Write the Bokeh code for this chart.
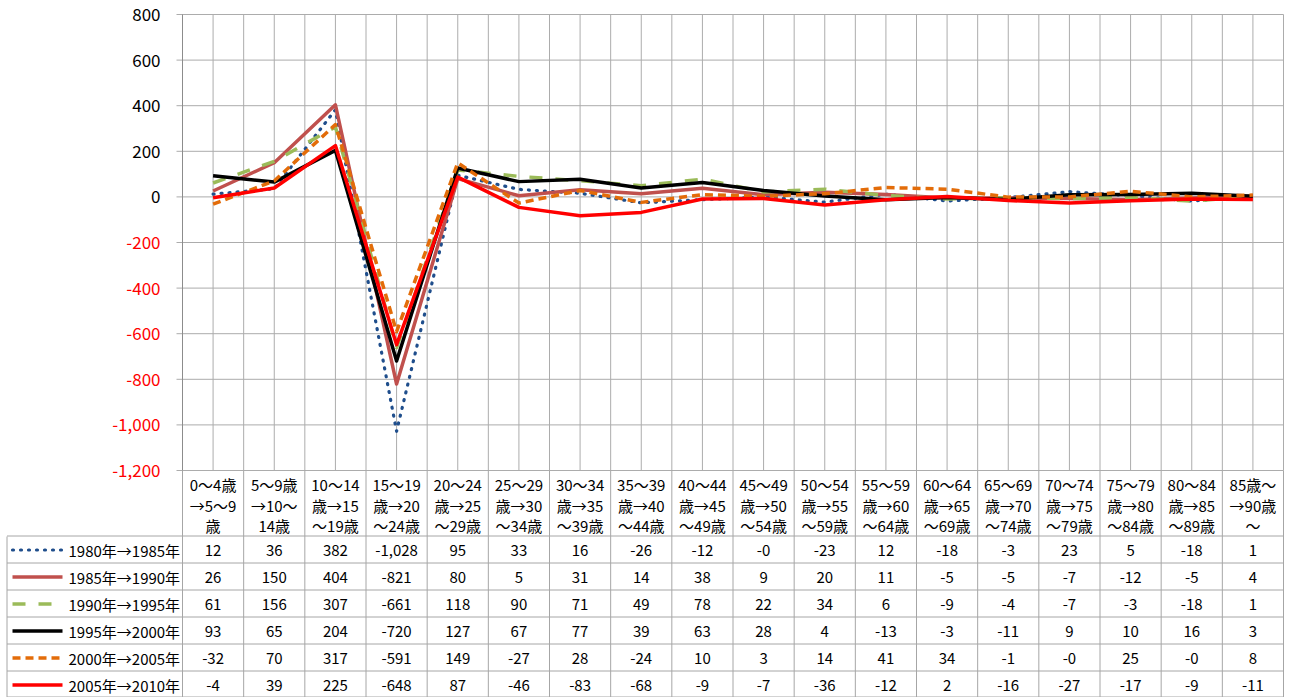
from bokeh.plotting import figure
from bokeh.models import Range1d
from bokeh.embed import file_html
from bokeh.resources import INLINE
from bokeh.core.properties import value

# ---------------- data ----------------
categories = [
    "0～4歳\n→5～9\n歳", "5～9歳\n→10～\n14歳", "10～14\n歳→15\n～19歳",
    "15～19\n歳→20\n～24歳", "20～24\n歳→25\n～29歳", "25～29\n歳→30\n～34歳",
    "30～34\n歳→35\n～39歳", "35～39\n歳→40\n～44歳", "40～44\n歳→45\n～49歳",
    "45～49\n歳→50\n～54歳", "50～54\n歳→55\n～59歳", "55～59\n歳→60\n～64歳",
    "60～64\n歳→65\n～69歳", "65～69\n歳→70\n～74歳", "70～74\n歳→75\n～79歳",
    "75～79\n歳→80\n～84歳", "80～84\n歳→85\n～89歳", "85歳～\n→90歳\n～",
]
series_names = ["1980年→1985年", "1985年→1990年", "1990年→1995年",
                "1995年→2000年", "2000年→2005年", "2005年→2010年"]
s1980 = [12, 36, 382, -1028, 95, 33, 16, -26, -12, -0.2, -23, 12, -18, -3, 23, 5, -18, 1]
s1985 = [26, 150, 404, -821, 80, 5, 31, 14, 38, 9, 20, 11, -5, -5, -7, -12, -5, 4]
s1990 = [61, 156, 307, -661, 118, 90, 71, 49, 78, 22, 34, 6, -9, -4, -7, -3, -18, 1]
s1995 = [93, 65, 204, -720, 127, 67, 77, 39, 63, 28, 4, -13, -3, -11, 9, 10, 16, 3]
s2000 = [-32, 70, 317, -591, 149, -27, 28, -24, 10, 3, 14, 41, 34, -1, -0.2, 25, -0.2, 8]
s2005 = [-4, 39, 225, -648, 87, -46, -83, -68, -9, -7, -36, -12, 2, -16, -27, -17, -9, -11]
y_ticks = [800, 600, 400, 200, 0, -200, -400, -600, -800, -1000, -1200]

series = [s1980, s1985, s1990, s1995, s2000, s2005]
styles = [
    dict(line_color="#1F4E8C", line_width=3.2, line_dash="1 7", line_cap="round"),
    dict(line_color="#C0504D", line_width=3.5),
    dict(line_color="#9BBB59", line_width=3.5, line_dash="13 13"),
    dict(line_color="#000000", line_width=3.5),
    dict(line_color="#E36C09", line_width=3.5, line_dash="8 5"),
    dict(line_color="#FF0000", line_width=3.5),
]

FONT = "Noto Sans CJK JP"
GRID = "#acacac"
BORDER = "#a6a6a6"
AXIS = "#8c8c8c"

W, H = 1288, 697
N = len(categories)
CL, CR = 182, 1283          # chart frame left/right (canvas px)
CT, CB = 14, 470            # chart top/bottom (canvas px)
ppu = (CR - CL) / N
x_start = -CL / ppu
x_end = N + (W - CR) / ppu

TH = H - CB                 # table height in px (y units of default range)
HDR = 66
ROW = 27
body_top = TH - HDR

vmin, vmax = y_ticks[-1], y_ticks[0]
k = (vmax - vmin) / (CB - CT)
val_range = Range1d(vmin - (H - CB) * k, vmax + CT * k)

p = figure(width=W, height=H, x_range=Range1d(x_start, x_end), y_range=Range1d(0, H),
           output_backend="svg", toolbar_location=None,
           x_axis_location=None, y_axis_location=None,
           min_border_left=0, min_border_right=0, min_border_top=0, min_border_bottom=0)
p.extra_y_ranges = {"val": val_range}
p.grid.visible = False
p.outline_line_color = None
p.background_fill_color = "white"
p.border_fill_color = "white"

# ---------- chart grid ----------
hx0 = -6 / ppu
p.segment(x0=[hx0] * len(y_ticks), y0=y_ticks, x1=[N] * len(y_ticks), y1=y_ticks,
          line_color=GRID, line_width=1, y_range_name="val")
gx = [j * 0.5 for j in range(1, 2 * N + 1)]
p.segment(x0=gx, y0=[vmin] * len(gx), x1=gx, y1=[vmax] * len(gx),
          line_color=GRID, line_width=1, y_range_name="val")
p.segment(x0=[0], y0=[vmin], x1=[0], y1=[vmax], line_color=AXIS, line_width=1,
          y_range_name="val")

# y tick labels
p.text(x=[-22 / ppu] * len(y_ticks), y=y_ticks, text=[f"{t:,}" for t in y_ticks],
       text_color=["#000000" if t >= 0 else "#FF0000" for t in y_ticks],
       text_font=value(FONT), text_font_size="17px", text_align="right",
       text_baseline="middle", y_range_name="val")

# series lines
xs = [i + 0.5 for i in range(N)]
for vals, st in zip(series, styles):
    p.line(x=xs, y=vals, line_join="round", y_range_name="val", **st)

# ---------- data table ----------
vx = list(range(N + 1))
p.segment(x0=vx, y0=[0] * len(vx), x1=vx, y1=[TH] * len(vx), line_color=BORDER, line_width=1)
lx = x_start + 6.5 / ppu
p.segment(x0=[lx], y0=[0], x1=[lx], y1=[body_top], line_color=BORDER, line_width=1)
hy = [body_top + 0.5 - ROW * r for r in range(len(series))] + [0.5]
p.segment(x0=[lx] * len(hy), y0=hy, x1=[N] * len(hy), y1=hy, line_color=BORDER, line_width=1)

# header texts
hx, hyy, htxt = [], [], []
for i, c in enumerate(categories):
    for j, line in enumerate(c.split("\n")):
        hx.append(i + 0.5)
        hyy.append(TH - 14 - 20.5 * j)
        htxt.append(line)
p.text(x=hx, y=hyy, text=htxt, text_font=value(FONT), text_font_size="15px",
       text_align="center", text_baseline="middle", text_color="#000000")

# values
vxs, vys, vtx = [], [], []
for r, vals in enumerate(series):
    yc = body_top - ROW * r - ROW / 2
    for i, v in enumerate(vals):
        vxs.append(i + 0.5)
        vys.append(yc)
        vtx.append(f"{v:,.0f}")
p.text(x=vxs, y=vys, text=vtx, text_font=value(FONT), text_font_size="15px",
       text_align="center", text_baseline="middle", text_color="#000000")

# legend keys
for r, (name, st) in enumerate(zip(series_names, styles)):
    yc = body_top - ROW * r - ROW / 2
    p.line(x=[x_start + 12 / ppu, x_start + 62 / ppu], y=[yc, yc], **st)
    p.text(x=[x_start + 68 / ppu], y=[yc], text=[name], text_font=value(FONT),
           text_font_size="15px", text_align="left", text_baseline="middle",
           text_color="#000000")

open("out.html", "w").write(file_html(p, INLINE))
